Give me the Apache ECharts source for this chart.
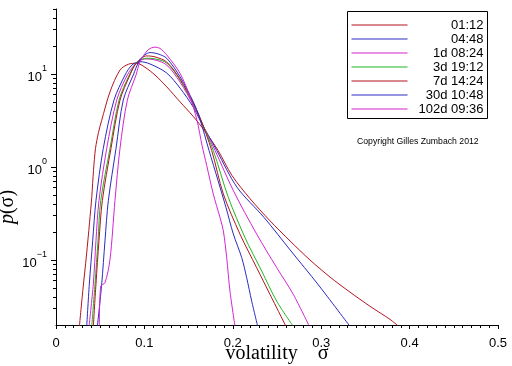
<!DOCTYPE html>
<html>
<head>
<meta charset="utf-8">
<script src="https://cdn.jsdelivr.net/npm/echarts@6/dist/echarts.min.js"></script>
<style>
html,body{margin:0;padding:0;background:#fff;}
#chart{width:512px;height:366px;}
</style>
</head>
<body>
<div id="chart"></div>
<script>
// ---- data ----
const seriesNames = ['01:12', '04:48', '1d 08:24', '3d 19:12', '7d 14:24', '30d 10:48', '102d 09:36'];

const s0112 = [[0.0264,0.019],[0.0305,0.0486],[0.0345,0.1133],[0.0379,0.251],[0.0405,0.48],[0.0424,0.917],[0.0447,1.585],[0.0481,2.36],[0.0517,3.18],[0.0611,6.44],[0.0724,11.05],[0.0818,12.73],[0.0913,13.05],[0.1007,11.81],[0.112,9.75],[0.1252,7.29],[0.1403,5.02],[0.155,3.52],[0.1686,2.42],[0.1833,1.508],[0.1991,0.809],[0.2195,0.4565],[0.2421,0.264],[0.2647,0.1605],[0.2873,0.1],[0.31,0.0655],[0.3326,0.0451],[0.3552,0.0318],[0.3778,0.023],[0.3869,0.0196]];
const s0448 = [[0.0347,0.019],[0.0377,0.055],[0.0415,0.1605],[0.0452,0.434],[0.0535,1.585],[0.0656,5.24],[0.0781,9.75],[0.086,12.51],[0.095,13.58],[0.1063,12.83],[0.1252,10.25],[0.1403,7.06],[0.1553,4.40],[0.1629,3.18],[0.1818,1.508],[0.2048,0.605],[0.2353,0.287],[0.2658,0.125],[0.2964,0.0546],[0.3326,0.0193]];
const s1d0824 = [[0.0373,0.019],[0.0422,0.055],[0.0452,0.1605],[0.0486,0.434],[0.0574,1.585],[0.0687,5.24],[0.0807,9.75],[0.0913,13.25],[0.1007,14.53],[0.112,14.17],[0.1252,12.51],[0.1403,8.19],[0.1553,4.62],[0.1629,3.26],[0.1799,1.508],[0.2006,0.557],[0.227,0.19],[0.2497,0.0826],[0.2685,0.0426],[0.2866,0.0193]];
const s3d1912 = [[0.0404,0.019],[0.0441,0.055],[0.0475,0.1605],[0.0506,0.434],[0.0611,1.585],[0.0713,5.24],[0.0829,9.75],[0.0913,13.25],[0.1026,14.78],[0.112,14.53],[0.1252,13.15],[0.1403,8.61],[0.1553,4.74],[0.1629,3.34],[0.1779,1.508],[0.1949,0.472],[0.2138,0.174],[0.2327,0.076],[0.2497,0.036],[0.2685,0.0193]];
const s7d1424 = [[0.0422,0.019],[0.0452,0.055],[0.0486,0.1605],[0.0524,0.434],[0.0622,1.585],[0.0724,5.24],[0.0837,9.75],[0.0913,13.25],[0.1026,15.65],[0.112,15.27],[0.1252,13.48],[0.1403,8.83],[0.1553,4.86],[0.1629,3.4],[0.1761,1.508],[0.1893,0.513],[0.2081,0.19],[0.227,0.0826],[0.2421,0.0426],[0.2602,0.0193]];
const s30d1048 = [[0.0467,0.019],[0.0517,0.055],[0.0554,0.1605],[0.0592,0.434],[0.0679,1.585],[0.0761,5.24],[0.0874,9.75],[0.095,14.17],[0.1063,16.99],[0.1154,16.45],[0.1252,14.78],[0.1403,9.35],[0.1553,5.02],[0.1629,3.26],[0.1731,1.508],[0.1833,0.715],[0.1923,0.367],[0.2006,0.19],[0.2101,0.106],[0.2157,0.0644],[0.2214,0.036],[0.2282,0.0193]];
const s102d0936 = [[0.049,0.019],[0.0506,0.0524],[0.0554,0.0568],[0.0611,0.1018],[0.0667,0.434],[0.0724,1.585],[0.0807,5.24],[0.0905,9.75],[0.095,13.48],[0.1041,18.17],[0.112,19.44],[0.1176,18.87],[0.1252,16.05],[0.1403,10.17],[0.1516,5.68],[0.1595,3.18],[0.1652,1.708],[0.1705,1.038],[0.1779,0.513],[0.1855,0.287],[0.1893,0.206],[0.1931,0.106],[0.1968,0.0462],[0.2025,0.0193]];

const seriesData = [s0112, s0448, s1d0824, s3d1912, s7d1424, s30d1048, s102d0936];

// axis ranges and ticks
const xMin = 0, xMax = 0.5, xStep = 0.1;
const yMin = 0.02, yMax = 50;
const yMinorTicks = [0.03,0.04,0.05,0.06,0.07,0.08,0.09,0.2,0.3,0.4,0.5,0.6,0.7,0.8,0.9,2,3,4,5,6,7,8,9,20,30,40,50];
const copyrightText = 'Copyright Gilles Zumbach 2012';

// ---- styles ----
const colors = ['#b4141e', '#2a2ac0', '#d424d4', '#22b422', '#b4141e', '#2a2ac0', '#d424d4'];
const sans = 'Liberation Sans, Arial, sans-serif';
const serif = 'Liberation Serif, Times New Roman, serif';

const chart = echarts.init(document.getElementById('chart'), null, {renderer: 'canvas'});

const option = {
  animation: false,
  backgroundColor: '#fff',
  title: {
    text: copyrightText,
    left: 357, top: 137, padding: 0,
    textStyle: {fontSize: 8.7, fontWeight: 'normal', fontFamily: sans, color: '#000'}
  },
  legend: {
    data: seriesNames,
    orient: 'vertical',
    left: 347.5, top: 11.5,
    padding: [7, 4, 3, 4],
    borderColor: '#000', borderWidth: 1,
    itemWidth: 56, itemHeight: 1, itemGap: 1,
    icon: 'rect',
    selectedMode: false,
    formatter: n => '{r|' + n + '}',
    textStyle: {
      color: '#000', fontFamily: sans, fontSize: 13,
      rich: {r: {width: 71, align: 'right', fontSize: 13, lineHeight: 14, fontFamily: sans, color: '#000'}}
    }
  },
  grid: {left: 56, right: 14, top: 9, bottom: 41, containLabel: false, outerBoundsMode: 'none'},
  xAxis: {
    type: 'value', min: xMin, max: xMax, interval: xStep,
    name: 'volatility    σ', nameLocation: 'middle', nameGap: 19, nameMoveOverlap: false,
    nameTextStyle: {fontFamily: serif, fontSize: 20, color: '#000'},
    axisLine: {onZero: false, lineStyle: {color: '#000', width: 1}},
    axisTick: {length: 4, lineStyle: {color: '#000'}},
    minorTick: {show: true, splitNumber: 10, length: 3, lineStyle: {color: '#000'}},
    splitLine: {show: false},
    axisLabel: {margin: 12, fontSize: 13, fontFamily: sans, color: '#000', formatter: v => String(+v.toFixed(1))}
  },
  yAxis: [{
    type: 'log', logBase: 10, min: yMin, max: yMax,
    name: '{i|p}{n|(σ)}', nameLocation: 'middle', nameGap: 38, nameMoveOverlap: false,
    nameTextStyle: {
      fontFamily: serif, fontSize: 20, color: '#000', padding: [0, 80, 0, 0],
      rich: {i: {fontFamily: serif, fontStyle: 'italic', fontSize: 20, color: '#000'},
             n: {fontFamily: serif, fontSize: 20, color: '#000'}}
    },
    axisLine: {show: true, onZero: false, lineStyle: {color: '#000', width: 1}},
    axisTick: {length: 5, lineStyle: {color: '#000'}},
    splitLine: {show: false},
    axisLabel: {
      margin: 9, showMinLabel: false, showMaxLabel: false,
      formatter: v => {
        const e = Math.round(Math.log10(v));
        return '{b|10}{s|' + (e < 0 ? '−' : '') + Math.abs(e) + '}';
      },
      rich: {
        b: {fontSize: 13, fontFamily: sans, color: '#000', lineHeight: 20, verticalAlign: 'bottom'},
        s: {fontSize: 9, fontFamily: sans, color: '#000', lineHeight: 20, verticalAlign: 'top'}
      }
    }
  }, {
    // log-spaced minor ticks (2..9 x 10^n) drawn on a linear log10 axis
    type: 'value', min: Math.log10(yMin), max: Math.log10(yMax), position: 'left',
    axisLine: {show: false, onZero: false},
    axisLabel: {show: false},
    splitLine: {show: false},
    axisTick: {show: true, length: 3, lineStyle: {color: '#000'}, customValues: yMinorTicks.map(v => Math.log10(v))}
  }],
  series: seriesData.map((d, i) => ({
    name: seriesNames[i],
    type: 'line',
    data: d,
    yAxisIndex: 0,
    color: colors[i],
    showSymbol: false,
    symbol: 'none',
    smooth: 0.3,
    clip: true,
    lineStyle: {width: 1, color: colors[i]},
    emphasis: {disabled: true}
  }))
};
chart.setOption(option);
</script>
</body>
</html>
